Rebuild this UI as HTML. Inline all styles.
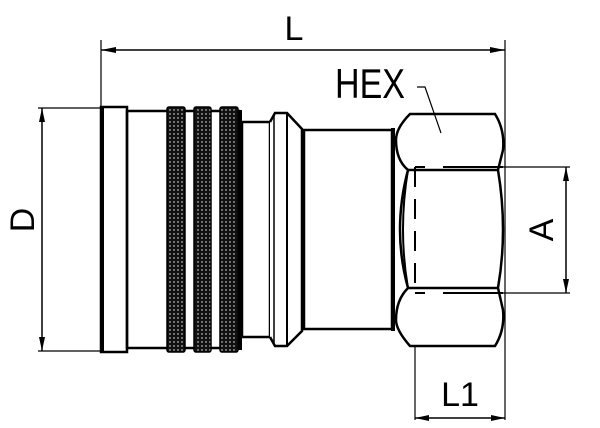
<!DOCTYPE html>
<html><head><style>body{margin:0;background:#fff}svg{display:block}</style></head><body>
<svg width="600" height="428" viewBox="0 0 600 428" xmlns="http://www.w3.org/2000/svg">
<defs>
<pattern id="kn" width="4" height="4" patternUnits="userSpaceOnUse">
<rect width="4" height="4" fill="#111"/><circle cx="2" cy="2" r="0.7" fill="#fff"/>
</pattern>
</defs>
<g stroke="#000" fill="none">
<!-- L dimension -->
<line x1="101" y1="40" x2="101" y2="107" stroke-width="1.2"/>
<line x1="505" y1="40" x2="505" y2="420" stroke-width="1.2"/>
<line x1="101" y1="50" x2="505" y2="50" stroke-width="1.5"/>
<!-- D dimension -->
<line x1="38" y1="108" x2="101" y2="108" stroke-width="1.2"/>
<line x1="38" y1="351" x2="101" y2="351" stroke-width="1.2"/>
<line x1="42" y1="108" x2="42" y2="351" stroke-width="1.5"/>
<!-- A dimension -->
<line x1="500" y1="167" x2="570" y2="167" stroke-width="1.2"/>
<line x1="500" y1="293" x2="570" y2="293" stroke-width="1.2"/>
<line x1="566" y1="167" x2="566" y2="293" stroke-width="1.5"/>
<!-- L1 -->
<line x1="415" y1="165" x2="415" y2="420" stroke-width="1.2"/>
<line x1="415" y1="418" x2="505" y2="418" stroke-width="1.5"/>

<!-- flange -->
<rect x="101" y="107" width="26" height="245" stroke-width="2.5"/>
<line x1="102" y1="107" x2="102" y2="352" stroke-width="4"/>
<!-- body -->
<rect x="127" y="111" width="42" height="237" stroke-width="2.5"/>
<rect x="169" y="111" width="70" height="237" stroke-width="2.5"/>
<!-- knurls -->
<rect x="167" y="107" width="18" height="245" rx="2" fill="url(#kn)" stroke-width="1.5"/>
<rect x="194" y="107" width="17" height="245" rx="2" fill="url(#kn)" stroke-width="1.5"/>
<rect x="220" y="107" width="18" height="245" rx="2" fill="url(#kn)" stroke-width="1.5"/>
<line x1="240" y1="110" x2="240" y2="350" stroke-width="4"/>
<!-- neck -->
<rect x="242" y="122" width="28" height="215" stroke-width="2.5"/>
<line x1="270" y1="122" x2="270" y2="337" stroke-width="2"/>
<!-- collar -->
<path d="M270 122 L275 113 L287 113 L302 129 L302 331 L287 346 L275 346 L270 337" stroke-width="2.5" fill="#fff"/>
<line x1="274" y1="114" x2="274" y2="345" stroke-width="1.5"/>
<line x1="287" y1="113" x2="287" y2="346" stroke-width="2"/>
<line x1="303" y1="130" x2="303" y2="330" stroke-width="4"/>
<!-- body 2 -->
<rect x="304" y="130" width="88" height="199" stroke-width="2.5"/>
<line x1="393" y1="128" x2="393" y2="331" stroke-width="4"/>
<!-- hex -->
<path d="M410 114 L495 114 Q505 130 503 150 L498 170 Q508 230 498 288 L503 310 Q505 330 495 346 L410 346 Q396 330 396 320 Q396 300 408 288 Q392 230 408 170 Q396 160 396 140 Q396 128 410 114 Z" stroke-width="2.5" fill="#fff"/>
<line x1="408" y1="170" x2="498" y2="170" stroke-width="2.5"/>
<line x1="408" y1="288" x2="498" y2="288" stroke-width="2.5"/>
<path d="M408 170 Q398 230 408 288" stroke-width="2"/>
<!-- dashed threads -->
<line x1="415" y1="167" x2="415" y2="293" stroke-width="2" stroke-dasharray="20,12"/>
<line x1="415" y1="167" x2="505" y2="167" stroke-width="2" stroke-dasharray="10,18,60"/>
<line x1="415" y1="293" x2="505" y2="293" stroke-width="2" stroke-dasharray="10,18,60"/>
<!-- HEX leader -->
<polyline points="417,87 425,87 441,133" stroke-width="1.2"/>
</g>
<g fill="#000">
<polygon points="101,50 116,47 116,53"/>
<polygon points="505,50 490,47 490,53"/>
<polygon points="42,108 39,122 45,122"/>
<polygon points="42,351 39,337 45,337"/>
<polygon points="566,167 563,181 569,181"/>
<polygon points="566,293 563,279 569,279"/>
<polygon points="415,418 429,415 429,421"/>
<polygon points="505,418 491,415 491,421"/>
</g>
<g font-family="Liberation Sans, sans-serif" fill="#000">
<text x="294" y="40" font-size="34" text-anchor="middle">L</text>
<text x="370" y="98" font-size="42" text-anchor="middle" textLength="70" lengthAdjust="spacingAndGlyphs">HEX</text>
<text x="460" y="406" font-size="34" text-anchor="middle">L1</text>
<text transform="translate(34,220) rotate(-90)" font-size="34" text-anchor="middle">D</text>
<text transform="translate(553,230) rotate(-90)" font-size="34" text-anchor="middle">A</text>
</g>
</svg>
</body></html>
